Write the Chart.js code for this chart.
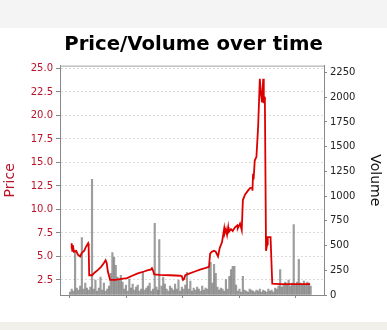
<!DOCTYPE html>
<html>
<head>
<meta charset="utf-8">
<script src="https://cdn.jsdelivr.net/npm/chart.js@4/dist/chart.umd.min.js"></script>
<style>
  html, body { margin:0; padding:0; }
  body { width:387px; height:330px; overflow:hidden;
    background: linear-gradient(#f4f4f4 0 28px, #ffffff 28px 322px, #f1f0eb 322px); }
  #chart-pv { display:block; }
</style>
</head>
<body>
<canvas id="chart-pv" width="387" height="330"></canvas>
<script>
// ── data (x = trading day index) ──
const priceDays = [2,3,4,5,7,11,14,18,21,25,28,32,33,34,39,44,50,55,60,63,65,67,71,80,88,101,110,120,131,138,143,145,147,149,159,177,195,198,200,202,204,212,221,230,239,246,248,251,255,258,262,265,269,273,274,276,278,280,281,285,288,292,296,297,301,304,306,310,315,319,322,323,324,325,327,330,333,336,338,340,342,343,344,345,347,349,350,355,358,372,389,407,425];
const priceValues = [5.85,6.4,5.6,6.2,5.5,5.6,5.2,5.0,5.4,5.6,6.0,6.4,6.0,3.0,3.0,3.3,3.6,3.9,4.3,4.6,4.3,3.4,2.5,2.5,2.6,2.7,2.95,3.2,3.4,3.55,3.6,3.75,3.5,3.1,3.05,3.0,2.95,2.9,2.5,2.6,3.0,3.2,3.4,3.6,3.75,3.9,5.3,5.5,5.6,5.5,5.0,5.9,6.5,8.0,7.5,7.9,7.3,8.1,7.6,7.9,7.7,8.1,8.3,8.0,8.5,7.8,11.0,11.6,12.0,12.3,12.4,12.0,13.8,13.2,15.2,15.6,18.8,23.9,22.3,21.4,23.9,21.3,22.0,21.3,5.6,6.3,7.05,7.05,2.1,2.05,2.05,2.05,2.05];

const volDays = [0,3,6,9,12,15,18,21,24,27,30,33,36,39,42,45,48,51,54,57,60,63,66,69,72,75,78,81,84,87,90,93,96,99,102,105,108,111,114,117,120,123,126,129,132,135,138,141,144,147,150,153,156,158,162,165,168,171,174,177,180,183,186,189,192,195,198,201,204,207,210,213,216,219,222,225,228,231,234,237,240,243,246,249,252,255,258,261,264,267,270,273,276,279,282,285,288,291,294,297,300,303,306,309,312,315,318,321,324,327,330,333,336,339,342,345,348,351,354,357,360,363,366,369,372,375,378,381,384,387,390,393,396,399,402,405,408,411,414,417,420,423,426];
const volValues = [30,60,40,450,70,50,90,580,60,120,70,50,80,1170,60,150,40,70,180,50,120,40,60,90,220,430,380,300,180,150,200,130,60,100,40,160,70,110,50,80,100,40,60,230,50,70,90,120,40,60,724,80,50,560,90,180,110,60,40,90,70,50,110,60,150,40,80,60,100,230,60,140,40,70,50,80,60,40,90,50,70,60,290,330,120,310,220,80,50,70,60,40,157,60,190,258,290,290,100,40,60,30,190,50,40,30,60,50,40,30,50,40,60,30,50,40,30,60,40,50,30,70,60,90,258,80,100,130,110,150,90,120,713,110,130,360,120,100,140,110,130,120,90];

const priceTicks = [2.5,5,7.5,10,12.5,15,17.5,20,22.5,25];
const volumeTicks = [0,250,500,750,1000,1250,1500,1750,2000,2250];
const dayTicks = [0,100,200,300,400];

const FONT = "'DejaVu Sans', sans-serif";
const RED = '#b8142a';

const plotFrame = {
  id: 'plotFrame',
  afterDraw(chart) {
    const { ctx, chartArea: a } = chart;
    ctx.save();
    ctx.strokeStyle = '#a0a0a0';
    ctx.lineWidth = 1;
    ctx.beginPath();
    ctx.moveTo(a.left, a.top + 0.5);
    ctx.lineTo(a.right, a.top + 0.5);
    ctx.stroke();
    ctx.restore();
  }
};

new Chart(document.getElementById('chart-pv'), {
  data: {
    datasets: [
      { type:'line', label:'Price', yAxisID:'price', order:1,
        data: priceDays.map((d,i) => ({ x:d, y:priceValues[i] })),
        borderColor:'#dd0000', borderWidth:1.8, pointRadius:0, tension:0, fill:false },
      { type:'bar', label:'Volume', yAxisID:'vol', order:2,
        data: volDays.map((d,i) => ({ x:d, y:volValues[i] })),
        backgroundColor:'rgba(115,115,115,0.7)', barThickness:1.5, borderWidth:0 },
    ]
  },
  options: {
    responsive:false, animation:false, devicePixelRatio:1,
    layout:{ padding:{ top:0, left:0, right:0, bottom:0 } },
    plugins:{
      legend:{ display:false }, tooltip:{ enabled:false },
      title:{ display:true, text:'Price/Volume over time', color:'#000',
        font:{ family:FONT, size:19.7, weight:'bold' }, padding:{ top:33, bottom:9 } }
    },
    scales:{
      x:{ type:'linear', min:-17.7, max:449.6, offset:false, bounds:'data',
        afterBuildTicks: s => { s.ticks = dayTicks.map(v => ({ value:v })); },
        afterFit: s => { s.height = 35; },
        ticks:{ display:false },
        grid:{ offset:false, drawOnChartArea:false, tickLength:3, tickColor:'#888' },
        border:{ color:'#888' } },
      price:{ type:'linear', position:'left', min:0.9, max:25.3,
        afterBuildTicks: s => { s.ticks = priceTicks.map(v => ({ value:v })); },
        afterFit: s => { s.width = 60; },
        ticks:{ color:RED, font:{ family:FONT, size:10 }, padding:3, callback: v => v.toFixed(1) },
        grid:{ color:'#dcdcdc', tickLength:4, tickColor:'#888' },
        border:{ color:'#888', dash:[2,2] },
        title:{ display:true, text:'Price', color:RED, font:{ family:FONT, size:14 }, padding:{ top:2, bottom:0 } } },
      vol:{ type:'linear', position:'right', min:0, max:2320,
        afterBuildTicks: s => { s.ticks = volumeTicks.map(v => ({ value:v })); },
        afterFit: s => { s.width = 63; },
        ticks:{ color:'#222', font:{ family:FONT, size:10 }, padding:3, callback: v => String(v) },
        grid:{ drawOnChartArea:false, tickLength:3, tickColor:'#888' },
        border:{ color:'#888' },
        title:{ display:true, text:'Volume', color:'#111', font:{ family:FONT, size:14 }, padding:{ top:4, bottom:0 } } }
    }
  },
  plugins:[plotFrame]
});
</script>
</body>
</html>
